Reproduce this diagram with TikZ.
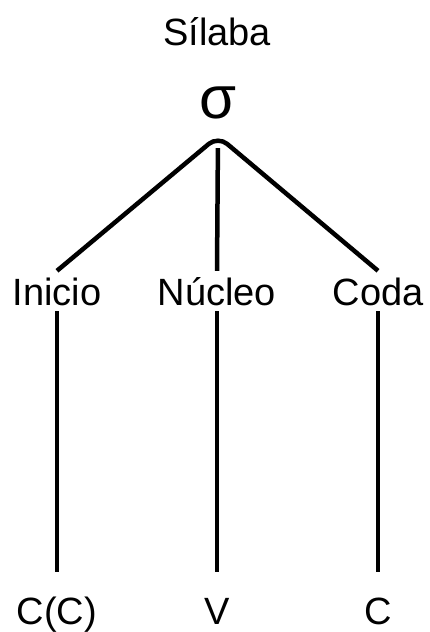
\documentclass[tikz,border=0pt]{standalone}
\usepackage{fontspec}
\setmainfont{Liberation Sans}
\begin{document}
\begin{tikzpicture}[x=1pt,y=-1pt,
  lbl/.style={font=\fontsize{38}{40}\selectfont, anchor=base, inner xsep=0pt,
              inner ysep=6pt, text height=28pt, text depth=0pt},
  branch/.style={line width=4.5pt, line join=round},
  leaf/.style={branch, shorten >=18pt},
]
\useasboundingbox (0,0) rectangle (429,632);

% syllable head
\node[lbl] (silaba) at (217,45) {Sílaba};
\node[font=\fontsize{60}{60}\selectfont, anchor=base, inner xsep=0pt,
      inner ysep=18pt, text depth=0pt] (sigma) at (218,118) {σ};

% constituents
\node[lbl] (inicio) at (57,305) {Inicio};
\node[lbl] (nucleo) at (217,305) {Núcleo};
\node[lbl] (coda)   at (378,305) {Coda};

% segments
\node[lbl] (cc) at (57,624)  {C(C)};
\node[lbl] (v)  at (217,624) {V};
\node[lbl] (c)  at (378,624) {C};

% branches: rounded apex, middle stem starts just below it
\draw[branch, rounded corners=12pt] (inicio.north) -- (sigma.south) -- (coda.north);
\draw[branch, shorten <=12pt] (sigma.south) -- (nucleo.north);
\draw[leaf] (inicio.south) -- (cc.north);
\draw[leaf] (nucleo.south) -- (v.north);
\draw[leaf] (coda.south) -- (c.north);
\end{tikzpicture}
\end{document}
